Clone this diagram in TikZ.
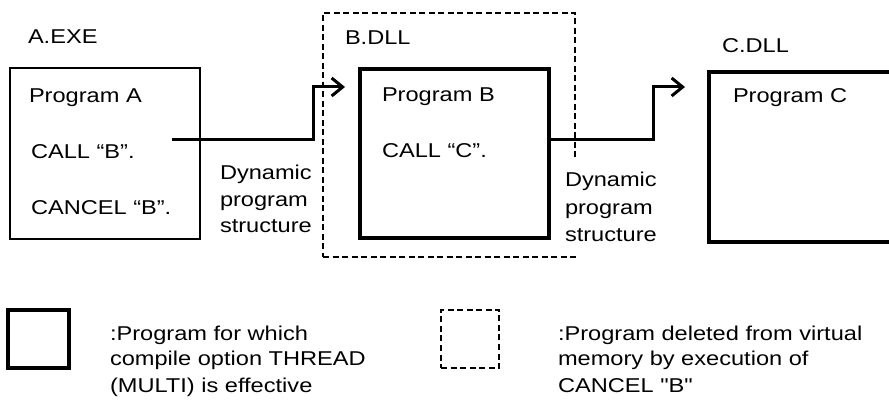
\documentclass[tikz,border=0pt]{standalone}
\usepackage{fontspec}
\setmainfont{Liberation Sans}[FakeStretch=1.18]
\newfontfamily\rawquotes{Liberation Sans}[FakeStretch=1.18]
\usetikzlibrary{arrows.meta}
\begin{document}
\begin{tikzpicture}[x=1pt,y=-1pt,
  txt/.style={anchor=base west, inner sep=0pt, outer sep=0pt, font=\fontsize{20}{24}\selectfont},
  boxbase/.style={anchor=north west, inner sep=0pt, outer sep=0pt},
  thinbox/.style={boxbase, draw, line width=1.3pt},
  thickbox/.style={boxbase, draw, line width=3.5pt},
  dashbox/.style={boxbase, draw, line width=1.2pt, dash pattern=on 6pt off 3.5pt},
  flow/.style={line width=3pt, -{Straight Barb[length=11pt,width=18pt,line width=3pt]}}]
\useasboundingbox (0,0) rectangle (889,403);

% A.EXE
\node[txt] (aexe) at (28,44) {A.EXE};
\node[thinbox, minimum width=190pt, minimum height=171pt] (A) at (10,68) {};
\node[txt] (pa) at (29,103) {Program A};
\node[txt] (ca) at (31,159) {CALL “B”.};
\node[txt] (cna) at (31,215) {CANCEL “B”.};

% dynamic label 1
\node[txt] (d1a) at (220,180) {Dynamic};
\node[txt] (d1b) at (220,207) {program};
\node[txt] (d1c) at (220,233) {structure};

% B.DLL
\node[dashbox, minimum width=252pt, minimum height=244pt] (Bdll) at (323,13) {};
\node[txt] (bdll) at (345,45) {B.DLL};
\node[thickbox, minimum width=189pt, minimum height=169pt] (B) at (360,69) {};
\node[txt] (pb) at (382,102) {Program B};
\node[txt] (cb) at (382,158) {CALL “C”.};

% dynamic label 2 (white ground hides the dashed line behind it)
\fill[white] (562,161) rectangle (662,252);
\node[txt] (d2a) at (565,187) {Dynamic};
\node[txt] (d2b) at (565,215) {program};
\node[txt] (d2c) at (565,242) {structure};

% C.DLL
\node[txt] (cdll) at (722,53) {C.DLL};
\coordinate (Cnw) at (709,72);
\coordinate (Csw) at (709,242);
\draw[line width=3.5pt] (889,72) -- (Cnw) -- (Csw) -- (889,242);
\node[txt] (pc) at (733,103) {Program C};

% arrows
\coordinate (a1s) at (172,140);
\coordinate (a1m) at (313,140);
\coordinate (a1n) at (313,87);
\coordinate (a1e) at (345,87);
\draw[flow] (a1s) -- (a1m) -- (a1n) -- (a1e);

\coordinate (a2s) at (B.east |- a1s);
\coordinate (a2m) at (653,140);
\coordinate (a2n) at (653,87);
\coordinate (a2e) at (685,87);
\draw[flow] (a2s) -- (a2m) -- (a2n) -- (a2e);

% legend
\node[thickbox, minimum width=61pt, minimum height=58pt] (L1) at (8,310) {};
\node[txt] (l1a) at (110,341) {:Program for which};
\node[txt] (l1b) at (110,366) {compile option THREAD};
\node[txt] (l1c) at (110,392) {(MULTI) is effective};

\node[dashbox, minimum width=58pt, minimum height=58pt] (L2) at (441,310) {};
\node[txt] (l2a) at (558,341) {:Program deleted from virtual};
\node[txt] (l2b) at (558,366) {memory by execution of};
\node[txt] (l2c) at (558,392) {CANCEL {\rawquotes\symbol{34}B\symbol{34}}};
\end{tikzpicture}
\end{document}
